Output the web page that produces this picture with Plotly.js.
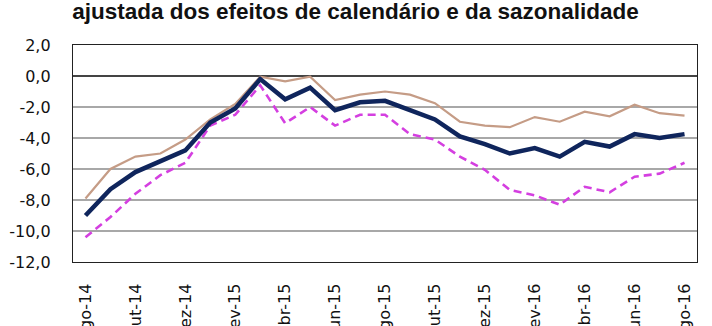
<!DOCTYPE html>
<html>
<head>
<meta charset="utf-8">
<script src="https://cdn.plot.ly/plotly-3.0.1.min.js"></script>
<style>
  html, body { margin: 0; padding: 0; background: #fff; }
  #chart { width: 712px; height: 326px; }
</style>
</head>
<body>
<div id="chart"></div>
<script>
// Monthly categories, ago-14 .. ago-16
const months = [
  'ago-14','set-14','out-14','nov-14','dez-14','jan-15','fev-15','mar-15','abr-15',
  'mai-15','jun-15','jul-15','ago-15','set-15','out-15','nov-15','dez-15','jan-16',
  'fev-16','mar-16','abr-16','mai-16','jun-16','jul-16','ago-16'
];

// Series (thick navy line, thin tan line, dashed magenta line)
const navySeries = [
  -9.0, -7.3, -6.2, -5.5, -4.8, -3.0, -2.1, -0.2, -1.5,
  -0.75, -2.2, -1.7, -1.6, -2.2, -2.8, -3.9, -4.4, -5.0,
  -4.65, -5.2, -4.25, -4.55, -3.75, -4.0, -3.75
];
const tanSeries = [
  -7.9, -6.0, -5.2, -5.0, -4.1, -2.8, -1.8, -0.05, -0.35,
  -0.05, -1.55, -1.2, -1.0, -1.2, -1.75, -2.95, -3.2, -3.3,
  -2.65, -2.95, -2.3, -2.6, -1.85, -2.4, -2.55
];
const magentaSeries = [
  -10.4, -9.1, -7.6, -6.4, -5.6, -3.2, -2.5, -0.6, -3.05,
  -2.0, -3.2, -2.5, -2.5, -3.75, -4.1, -5.2, -6.05, -7.35,
  -7.7, -8.3, -7.15, -7.5, -6.5, -6.3, -5.6
];

// Axis tick labels
const xTickLabels = ['ago-14','out-14','dez-14','fev-15','abr-15','jun-15','ago-15',
                     'out-15','dez-15','fev-16','abr-16','jun-16','ago-16'];
const yTickValues = [2, 0, -2, -4, -6, -8, -10, -12];
const yTickLabels = ['2,0', '0,0', '-2,0', '-4,0', '-6,0', '-8,0', '-10,0', '-12,0'];

const titleText = 'ajustada dos efeitos de calendário e da sazonalidade';

const traces = [
  {
    x: months, y: tanSeries, type: 'scatter', mode: 'lines',
    line: { color: '#c59c86', width: 2.2 }, hoverinfo: 'skip'
  },
  {
    x: months, y: magentaSeries, type: 'scatter', mode: 'lines',
    line: { color: '#d43fe0', width: 2.6, dash: '8px,5px' }, hoverinfo: 'skip'
  },
  {
    x: months, y: navySeries, type: 'scatter', mode: 'lines',
    line: { color: '#0f255c', width: 4.5 }, hoverinfo: 'skip'
  }
];

const tickFont = { family: 'DejaVu Sans, Verdana, sans-serif', size: 16, color: '#111' };

const layout = {
  width: 712,
  height: 326,
  margin: { l: 73, r: 15, t: 45, b: 64, pad: 0 },
  paper_bgcolor: '#ffffff',
  plot_bgcolor: '#ffffff',
  showlegend: false,
  title: {
    text: '<b>' + titleText + '</b>',
    font: { family: 'Liberation Sans, Arial, sans-serif', size: 22.5, color: '#111' },
    x: 0.4993, xanchor: 'center', xref: 'container',
    y: 0.99, yanchor: 'top', yref: 'container'
  },
  xaxis: {
    type: 'category',
    range: [-0.5, months.length - 0.5],
    tickmode: 'array',
    tickvals: xTickLabels,
    ticktext: xTickLabels,
    tickangle: -90,
    tickfont: tickFont,
    ticks: '',
    ticklabelstandoff: 14,
    showgrid: false,
    showline: true, linecolor: '#222', linewidth: 1.2, mirror: true,
    zeroline: false, fixedrange: true
  },
  yaxis: {
    range: [-12, 2],
    tickmode: 'array',
    tickvals: yTickValues,
    ticktext: yTickLabels,
    tickfont: tickFont,
    ticks: '',
    ticklabelstandoff: 18,
    showgrid: true, gridcolor: '#a8a8a8', gridwidth: 1.5,
    zeroline: true, zerolinecolor: '#444', zerolinewidth: 1.5,
    showline: true, linecolor: '#222', linewidth: 1.2, mirror: true,
    fixedrange: true
  }
};

Plotly.newPlot('chart', traces, layout, { staticPlot: true, displayModeBar: false });
</script>
</body>
</html>
